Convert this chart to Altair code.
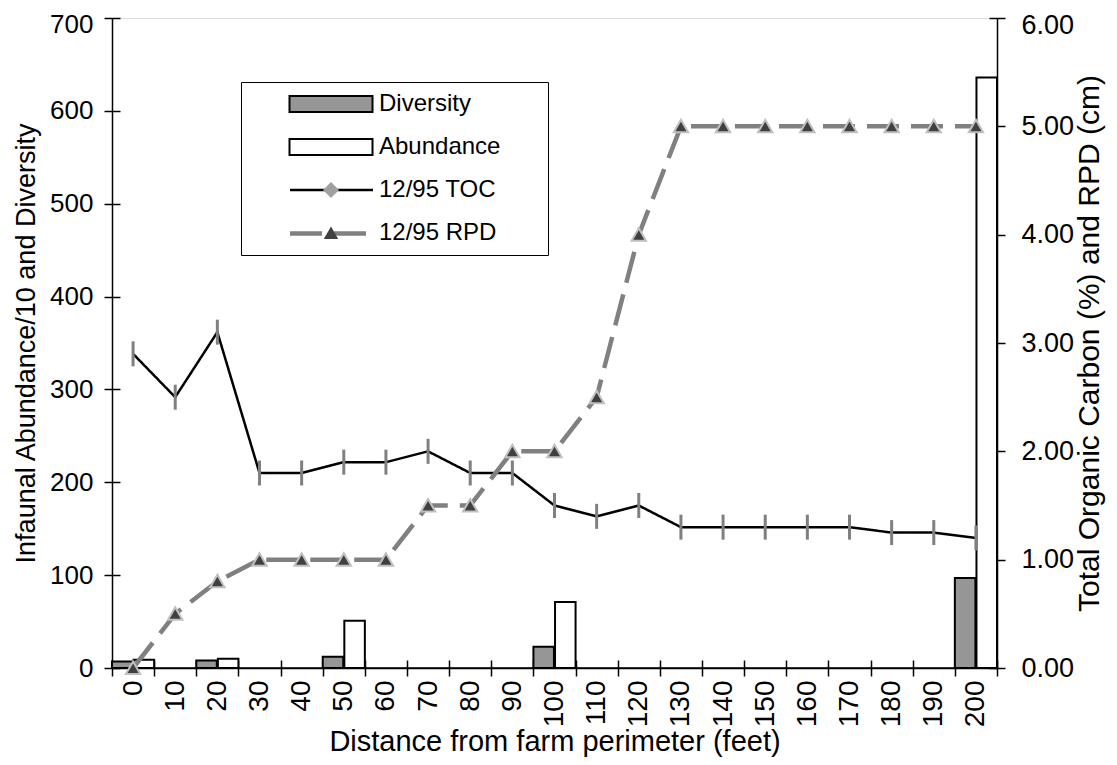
import altair as alt
import pandas as pd

# ---------------- data ----------------
distances = ["0", "10", "20", "30", "40", "50", "60", "70", "80", "90", "100",
             "110", "120", "130", "140", "150", "160", "170", "180", "190", "200"]
toc_values = [2.9, 2.5, 3.1, 1.8, 1.8, 1.9, 1.9, 2.0, 1.8, 1.8, 1.5,
              1.4, 1.5, 1.3, 1.3, 1.3, 1.3, 1.3, 1.25, 1.25, 1.2]
rpd_values = [0.0, 0.5, 0.8, 1.0, 1.0, 1.0, 1.0, 1.5, 1.5, 2.0, 2.0,
              2.5, 4.0, 5.0, 5.0, 5.0, 5.0, 5.0, 5.0, 5.0, 5.0]
bar_distances = ["0", "20", "50", "100", "200"]
diversity_values = [7, 8, 12, 23, 97]
abundance_values = [9, 10, 51, 71, 636]

series_all = ["Diversity", "Abundance", "12/95 TOC", "12/95 RPD"]
left_ticks = [0, 100, 200, 300, 400, 500, 600, 700]
right_ticks = [0, 1, 2, 3, 4, 5, 6]

# ---------------- tables ----------------
bars_df = pd.DataFrame(
    [{"dist": d, "series": "Diversity", "value": v} for d, v in zip(bar_distances, diversity_values)]
    + [{"dist": d, "series": "Abundance", "value": v} for d, v in zip(bar_distances, abundance_values)]
)
lines_df = pd.DataFrame(
    [{"dist": d, "idx": i, "series": "12/95 TOC", "value": v} for i, (d, v) in enumerate(zip(distances, toc_values))]
    + [{"dist": d, "idx": i, "series": "12/95 RPD", "value": v} for i, (d, v) in enumerate(zip(distances, rpd_values))]
)
toc_df = lines_df[lines_df.series == "12/95 TOC"]
rpd_df = lines_df[lines_df.series == "12/95 RPD"]
base_df = pd.DataFrame({"value": [left_ticks[0]]})

FONT = "Liberation Sans"
AX = dict(domainColor="black", tickColor="black", domainWidth=1.5, tickWidth=1.5, grid=False)

x_scale = alt.Scale(domain=distances, paddingInner=0, paddingOuter=0)
left_scale = alt.Scale(domain=[0, 700], nice=False)
right_scale = alt.Scale(domain=[0, 6], nice=False)

x_main_axis = alt.Axis(orient="bottom", title="Distance from farm perimeter (feet)", labelAngle=270,
                       tickBand="extent", tickSize=8, labelPadding=4, titlePadding=1,
                       labelFontSize=28, titleFontSize=29, **AX)
x_inner_axis = alt.Axis(orient="bottom", title=None, labels=False, domain=False, offset=-8,
                        tickBand="extent", tickSize=8, tickColor="black", tickWidth=1.5, grid=False)

legend_common = dict(
    orient="none", legendX=129, legendY=64, direction="vertical",
    symbolSize=400, symbolOffset=68, labelOffset=36, labelFontSize=24,
    labelFont=FONT, rowPadding=19, padding=10,
)

rect_path = "M-8,0M-4.15,-0.8H4.15V0.8H-4.15Z"
line_path = "M-8,0M-4.15,0H4.15"
diamond_path = "M-8,0M0,-0.8L0.8,0L0,0.8L-0.8,0Z"
triangle_path = "M-8,0M0,-0.65L0.72,0.6L-0.72,0.6Z"
empty_path = "M-8,0"

legA = alt.Legend(symbolType=rect_path, symbolStrokeWidth=2, strokeColor="black",
                  fillColor="white", cornerRadius=0, labelColor="black",
                  title="M", titleOrient="right", titleOpacity=0, titleFontSize=24,
                  titlePadding=18, **legend_common)
legB = alt.Legend(symbolType=line_path, labelOpacity=0, title=None, **legend_common)
legC = alt.Legend(symbolStrokeColor="#c0c0c0", symbolStrokeWidth=2, labelOpacity=0,
                  title=None, **legend_common)

# keep the top tick labels inside the page
left_top_offset = {"condition": {"test": f"datum.value == {left_ticks[-1]}", "value": 6}, "value": 0}
right_top_offset = {"condition": {"test": f"datum.value == {right_ticks[-1]}", "value": 7}, "value": 0}

# ---------------- layers ----------------
bars = alt.Chart(bars_df).mark_bar(strokeWidth=2).encode(
    x=alt.X("dist:N", sort=distances, scale=x_scale, axis=x_main_axis),
    xOffset=alt.XOffset("series:N", sort=["Diversity", "Abundance"],
                        scale=alt.Scale(domain=["Diversity", "Abundance"], paddingInner=0.05, paddingOuter=0)),
    y=alt.Y("value:Q", scale=left_scale,
            axis=alt.Axis(orient="left", values=left_ticks, title="Infaunal Abundance/10 and Diversity",
                          tickSize=8, labelPadding=11, titlePadding=9, labelFontSize=26,
                          labelOffset=left_top_offset, titleFontSize=27, **AX)),
    fill=alt.Fill("series:N", scale=alt.Scale(domain=series_all,
                  range=["#969696", "#ffffff", "transparent", "transparent"]), legend=legA),
    stroke=alt.Stroke("series:N", scale=alt.Scale(domain=series_all,
                      range=["#000000", "#000000", "transparent", "transparent"]), legend=legA),
)

baseline = alt.Chart(base_df).mark_rule(color="black", strokeWidth=1.5).encode(
    y=alt.Y("value:Q", scale=left_scale,
            axis=alt.Axis(orient="left", values=left_ticks, title=None, labels=False,
                          domain=False, offset=-8, tickSize=8, tickColor="black",
                          tickWidth=1.5, grid=False)),
)

lines = alt.Chart(lines_df).mark_line().encode(
    x=alt.X("dist:N", sort=distances, scale=x_scale, axis=None),
    y=alt.Y("value:Q", scale=right_scale,
            axis=alt.Axis(orient="right", values=right_ticks, format=".2f",
                          title="Total Organic Carbon (%) and RPD (cm)", titleAngle=270,
                          titleBaseline="top",
                          tickSize=8, labelPadding=16, titlePadding=1, labelFontSize=27,
                          labelOffset=right_top_offset, titleFontSize=30, **AX)),
    order=alt.Order("idx:Q"),
    stroke=alt.Stroke("series:N", scale=alt.Scale(domain=series_all,
                      range=["transparent", "transparent", "#000000", "#808080"]), legend=legB),
    strokeWidth=alt.StrokeWidth("series:N", scale=alt.Scale(type="ordinal", domain=series_all,
                                range=[0, 0, 2.5, 4.5]), legend=legB),
    strokeDash=alt.StrokeDash("series:N", scale=alt.Scale(domain=series_all,
                              range=[[1, 0], [1, 0], [1, 0], [32, 12]]), legend=legB),
)

toc_ticks = alt.Chart(toc_df).mark_point(
    shape="M0,-1.25L0,1.25", size=400, filled=False, stroke="#808080", strokeWidth=3, opacity=1
).encode(
    x=alt.X("dist:N", sort=distances, scale=x_scale, axis=x_inner_axis),
    y=alt.Y("value:Q", scale=right_scale, axis=None),
)

triangles = alt.Chart(rpd_df).mark_point(
    filled=True, size=400, stroke="#c0c0c0", strokeWidth=2, opacity=1
).encode(
    x=alt.X("dist:N", sort=distances, scale=x_scale, axis=None),
    y=alt.Y("value:Q", scale=right_scale,
            axis=alt.Axis(orient="right", values=right_ticks, title=None, labels=False,
                          domain=False, offset=-8, tickSize=8, tickColor="black",
                          tickWidth=1.5, grid=False)),
    shape=alt.Shape("series:N", scale=alt.Scale(domain=series_all,
                    range=[empty_path, empty_path, diamond_path, triangle_path]), legend=legC),
    fill=alt.Fill("series:N", scale=alt.Scale(domain=series_all,
                  range=["transparent", "transparent", "#a0a0a0", "#404040"]), legend=legC),
)

chart = alt.layer(bars, baseline, lines, toc_ticks, triangles).resolve_scale(
    y="independent", fill="independent", stroke="independent",
    shape="independent", strokeWidth="independent", strokeDash="independent",
).resolve_axis(x="independent").properties(
    width=885, height=650,
    padding={"left": 104, "top": 10, "right": 112, "bottom": 89},
    autosize=alt.AutoSizeParams(type="none"),
).configure_view(stroke=None).configure(font=FONT).configure_axis(
    labelFont=FONT, titleFont=FONT, labelColor="black", titleColor="black",
    titleFontWeight="normal", grid=False,
)

chart.save("out.html", embed_options={"renderer": "svg", "actions": False})
